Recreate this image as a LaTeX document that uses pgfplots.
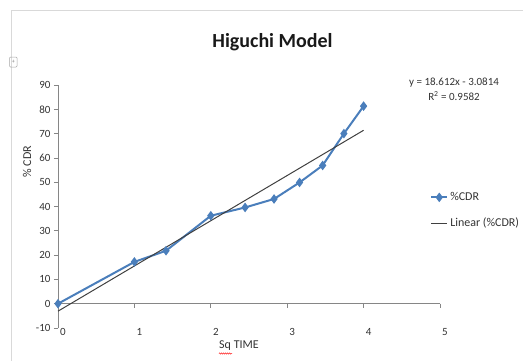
\documentclass[border=0pt]{standalone}
\usepackage{pgfplots}
\pgfplotsset{compat=1.18}
\usepackage{fontspec}
\setmainfont{Carlito}
\usetikzlibrary{decorations.pathmorphing}
\definecolor{excelblue}{HTML}{4A7EBB}
\definecolor{axgray}{HTML}{868686}
\definecolor{txtgray}{HTML}{333333}
\definecolor{framegray}{HTML}{D9D9D9}
\begin{document}
\begin{tikzpicture}[x=1pt,y=1pt]
\useasboundingbox (0,0) rectangle (523,360);
\draw[framegray, line width=0.8pt] (11.5,-5) -- (11.5,350) -- (530,350);
\draw[black!35, line width=0.5pt, rounded corners=1pt] (9.5,293) rectangle (17,303);
\node[font=\fontsize{6}{6}\selectfont, text=black!50, inner sep=0pt] at (13.25,298) {+};
\begin{axis}[
  at={(58pt,32pt)}, anchor=south west,
  scale only axis, width=382pt, height=243pt,
  xmin=0, xmax=5, ymin=-10, ymax=90,
  axis x line*=bottom, axis y line*=left,
  x axis line style={draw=none},
  y axis line style={axgray, line width=0.8pt, -},
  xtick={0,1,2,3,4,5}, ytick={-10,0,10,20,30,40,50,60,70,80,90},
  major x tick style={draw=none},
  major y tick style={axgray, line width=0.8pt},
  tick align=outside, major tick length=4pt,
  /pgf/number format/assume math mode=true,
  ticklabel style={font=\fontsize{11}{13}\selectfont, text=txtgray},
  xticklabel style={anchor=center, xshift=5pt},
  clip=false,
  legend style={at={(0.974,0.4835)}, anchor=west, draw=none, fill=none,
    font=\fontsize{12}{14}\selectfont, text=txtgray, inner sep=0pt,
    row sep=12pt},
  legend cell align=left,
  legend image code/.code={\draw[mark repeat=2,mark phase=2,#1] plot coordinates {(0pt,0pt)(8pt,0pt)(16pt,0pt)};},
]
\draw[axgray, line width=0.8pt] (axis cs:0,0) -- (axis cs:5,0);
\draw[axgray, line width=0.8pt] (axis cs:1,0) -- ++(0pt,-4pt);
\draw[axgray, line width=0.8pt] (axis cs:2,0) -- ++(0pt,-4pt);
\draw[axgray, line width=0.8pt] (axis cs:3,0) -- ++(0pt,-4pt);
\draw[axgray, line width=0.8pt] (axis cs:4,0) -- ++(0pt,-4pt);
\draw[axgray, line width=0.8pt] (axis cs:5,0) -- ++(0pt,-4pt);
\addplot[excelblue, line width=2pt, mark=diamond*, mark size=3.2pt, mark options={fill=excelblue, solid}]
  coordinates {(0,0)(1,17.2)(1.414,21.8)(2,36.2)(2.449,39.6)(2.828,43.1)(3.162,49.9)(3.464,56.9)(3.742,70.0)(4,81.3)};
\addlegendentry{\%CDR}
\addplot[black!75, line width=1pt] coordinates {(0,-3.0814)(4,71.3666)};
\addlegendentry{Linear (\%CDR)}
\end{axis}
\node[font=\fontsize{20}{24}\selectfont\bfseries, text=black!90, anchor=base] at (272.5,313) {Higuchi Model};
\node[font=\fontsize{11}{15}\selectfont, text=txtgray, align=center] at (454,270.5) {y = 18.612x - 3.0814\\R\textsuperscript{2} = 0.9582};
\node[font=\fontsize{12}{14}\selectfont, text=txtgray, rotate=90] at (27,198.5) {\% CDR};
\node[font=\fontsize{12}{14}\selectfont, text=txtgray] at (239,14) {Sq TIME};
\draw[red, line width=0.5pt, decorate, decoration={snake, amplitude=0.6pt, segment length=2pt}] (219,6.5) -- (232,6.5);
\end{tikzpicture}
\end{document}
